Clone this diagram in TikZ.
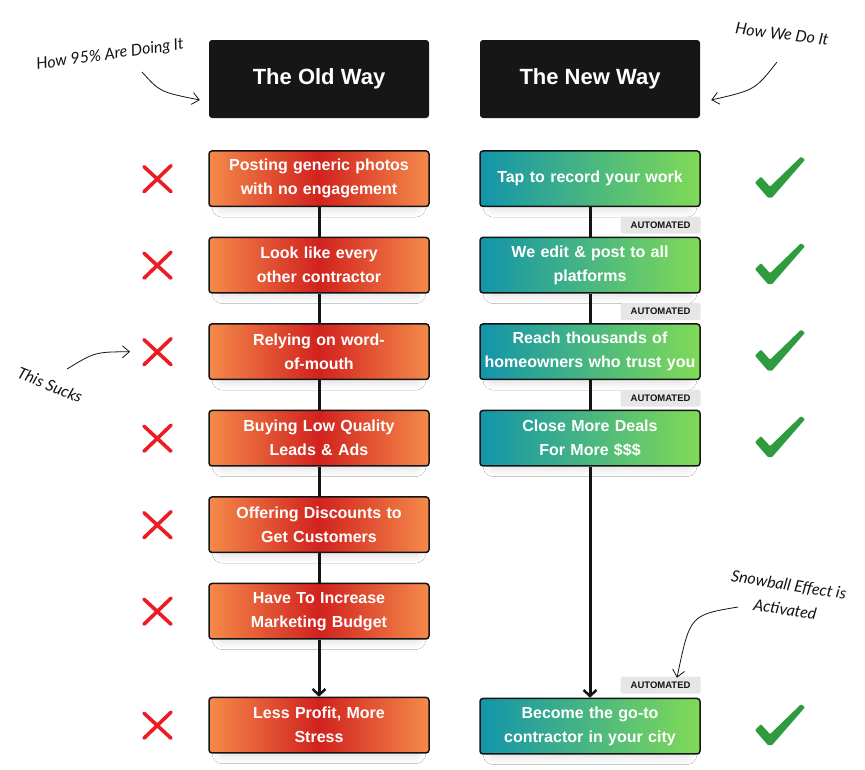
\documentclass[tikz,border=0pt]{standalone}
\usepackage{fontspec}
\setmainfont{Liberation Sans}
\newfontfamily\handfont{Lato}
\usepackage{tikz}
\usetikzlibrary{arrows.meta,positioning,shadows.blur}
\definecolor{ink}{HTML}{141414}
\definecolor{headbg}{HTML}{161616}
\definecolor{oldedge}{HTML}{F58A4A}
\definecolor{oldmid}{HTML}{D1221E}
\definecolor{newleft}{HTML}{1394AA}
\definecolor{newright}{HTML}{80DA56}
\definecolor{tagbg}{HTML}{E6E6E6}
\definecolor{crossred}{HTML}{EC1C24}
\definecolor{tickgreen}{HTML}{2E9B3F}
\tikzset{
  headbox/.style={rectangle,rounded corners=3pt,fill=headbg,text=white,
    font=\fontsize{22}{26}\selectfont\bfseries,minimum width=220pt,minimum height=78pt},
  oldbox/.style={rectangle,rounded corners=3pt,draw=ink,line width=1.5pt,
    left color=oldedge,right color=oldedge,middle color=oldmid,
    text=white,align=center,font=\fontsize{16}{24}\selectfont\bfseries,
    text width=216pt,inner xsep=2pt,inner ysep=0pt,minimum height=55.5pt,
    blur shadow={shadow xshift=0pt,shadow yshift=-6pt,shadow scale=0.9,
      shadow opacity=14,shadow blur radius=9pt,shadow blur steps=14}},
  newbox/.style={oldbox,left color=newleft,right color=newright,middle color=newleft!50!newright},
  tagbox/.style={rectangle,rounded corners=2pt,fill=tagbg,text=ink,
    font=\fontsize{9.5}{11}\selectfont\bfseries,minimum width=80pt,minimum height=17pt,inner sep=2pt},
  linkln/.style={line width=3pt,color=ink},
  linkarr/.style={linkln,-{Straight Barb[length=6pt,width=13pt,line width=2.5pt]}},
  notearr/.style={line width=0.8pt,color=ink,-{Straight Barb[length=7pt,width=12pt]}},
  notetext/.style={font=\handfont\itshape\fontsize{16}{25}\selectfont,text=ink,align=center},
  nomark/.pic={\draw[crossred,line width=3.6pt,line cap=round] (-13,-12) -- (14,13) (14,-13) -- (-13,13);},
  yesmark/.pic={\fill[tickgreen,rounded corners=1pt] (-25,4) -- (-19,-2) -- (-10,8) -- (21,-22)
    -- (25,-19) -- (-8,19) -- (-12,19) -- cycle;},
}
\begin{document}
\begin{tikzpicture}[x=1pt,y=-1pt,node distance=29.5pt]
  \fill[white] (0,0) rectangle (865,769);

  % column heads
  \node[headbox] (oldhead) at (319,79) {The Old Way};
  \node[headbox] (newhead) at (590,79) {The New Way};

  % the old way
  \node[oldbox, below=32pt of oldhead] (o1) {Posting generic photos\\with no engagement};
  \node[oldbox, below=of o1] (o2) {Look like every\\other contractor};
  \node[oldbox, below=of o2] (o3) {Relying on word-\\of-mouth};
  \node[oldbox, below=of o3] (o4) {Buying Low Quality\\Leads \& Ads};
  \node[oldbox, below=of o4] (o5) {Offering Discounts to\\Get Customers};
  \node[oldbox, below=of o5] (o6) {Have To Increase\\Marketing Budget};
  \node[oldbox, below=57pt of o6] (o7) {Less Profit, More\\Stress};

  % the new way
  \node[newbox, below=32pt of newhead] (n1) {Tap to record your work};
  \node[newbox, below=of n1] (n2) {We edit \& post to all\\platforms};
  \node[newbox, below=of n2] (n3) {Reach thousands of\\homeowners who trust you};
  \node[newbox, below=of n3] (n4) {Close More Deals\\For More \$\$\$};
  \node[newbox, below=231pt of n4] (n5) {Become the go-to\\contractor in your city};

  \foreach \i in {2,3,4}
    \node[tagbox, above=3pt of n\i.north east, anchor=south east] (t\i) {AUTOMATED};
  \node[tagbox, above=4pt of n5.north east, anchor=south east] (t5) {AUTOMATED};

  % connectors
  \draw[linkln] (o1) -- (o2);
  \draw[linkln] (o2) -- (o3);
  \draw[linkln] (o3) -- (o4);
  \draw[linkln] (o4) -- (o5);
  \draw[linkln] (o5) -- (o6);
  \draw[linkarr] (o6) -- (o7);
  \draw[linkln] (n1) -- (n2);
  \draw[linkln] (n2) -- (n3);
  \draw[linkln] (n3) -- (n4);
  \draw[linkarr] (n4) -- (n5);

  % marks
  \foreach \i in {1,...,7}{
    \coordinate (x\i) at ([xshift=-162pt]o\i.center);
    \pic at (x\i) {nomark};
  }
  \foreach \i in {1,...,5}{
    \coordinate (c\i) at ([xshift=190pt]n\i.center);
    \pic at (c\i) {yesmark};
  }

  % notes
  \node[notetext, rotate=8] (howold) at (110,55) {How 95\% Are Doing It};
  \draw[notearr] (142,72) .. controls (160,92) .. ([xshift=-9pt,yshift=-21pt]oldhead.west);
  \node[notetext, rotate=-7] (hownew) at (782,34) {How We Do It};
  \draw[notearr] (777,62) .. controls (755,90) .. ([xshift=11pt,yshift=-21pt]newhead.east);
  \node[notetext, rotate=-22] (sucks) at (50,385) {This Sucks};
  \draw[notearr] (67,369) .. controls (95,352) .. ([xshift=-27pt]x3);
  \node[notetext, rotate=-9] (snow) at (787,597) {Snowball Effect is\\Activated};
  \draw[notearr] (738,607) .. controls (690,615) .. ([xshift=87pt,yshift=20pt]n5.north);
\end{tikzpicture}
\end{document}
